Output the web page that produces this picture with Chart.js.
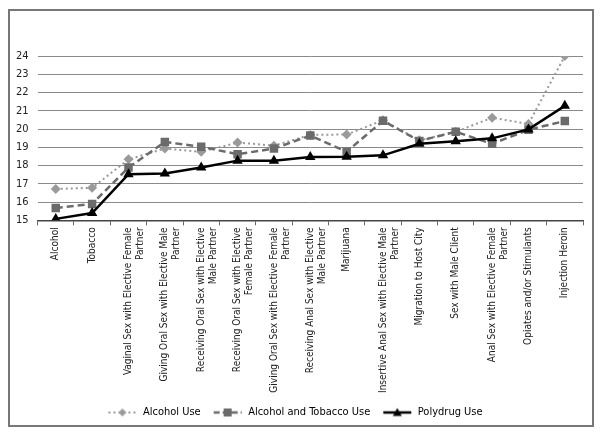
<!DOCTYPE html>
<html>
<head>
<meta charset="utf-8">
<script src="https://cdn.jsdelivr.net/npm/chart.js@4/dist/chart.umd.min.js"></script>
<style>
  html, body { margin: 0; padding: 0; background: #fff; }
  #wrap { width: 600px; height: 435px; position: relative; }
</style>
</head>
<body>
<div id="wrap"><canvas id="myChart"></canvas></div>
<script>
const categories = [
    'Alcohol',
    'Tobacco',
    ['Vaginal Sex with Elective Female', 'Partner'],
    ['Giving Oral Sex with Elective Male', 'Partner'],
    ['Receiving Oral Sex with Elective', 'Male Partner'],
    ['Receiving Oral Sex with Elective', 'Female Partner'],
    ['Giving Oral Sex with Elective Female', 'Partner'],
    ['Receiving Anal Sex with Elective', 'Male Partner'],
    'Marijuana',
    ['Insertive Anal Sex with Elective Male', 'Partner'],
    'Migration to Host City',
    'Sex with Male Client',
    ['Anal Sex with Elective Female', 'Partner'],
    'Opiates and/or Stimulants',
    'Injection Heroin'
];
const alcoholUse = [16.72, 16.78, 18.34, 18.93, 18.75, 19.26, 19.09, 19.68, 19.70, 20.48, 19.38, 19.85, 20.62, 20.28, 24.0];
const alcoholTobaccoUse = [15.68, 15.90, 17.89, 19.29, 19.03, 18.62, 18.93, 19.64, 18.76, 20.45, 19.35, 19.85, 19.19, 19.96, 20.44];
const polydrugUse = [15.08, 15.40, 17.53, 17.57, 17.89, 18.27, 18.27, 18.47, 18.48, 18.56, 19.19, 19.33, 19.49, 19.98, 21.27];
const yTicks = [15, 16, 17, 18, 19, 20, 21, 22, 23, 24];

const font = "'Liberation Sans Narrow', 'DejaVu Sans Condensed', 'Liberation Sans', sans-serif";

// little line+marker pictures for the legend
function legendIcon(color, dash, width, shape) {
    const c = document.createElement('canvas');
    c.width = 30; c.height = 12;
    const g = c.getContext('2d');
    g.strokeStyle = color;
    g.lineWidth = width;
    g.setLineDash(dash);
    g.beginPath();
    g.moveTo(1, 6); g.lineTo(29, 6);
    g.stroke();
    g.setLineDash([]);
    g.fillStyle = color;
    g.beginPath();
    if (shape === 'diamond') {
        g.moveTo(15, 2); g.lineTo(19, 6); g.lineTo(15, 10); g.lineTo(11, 6);
    } else if (shape === 'square') {
        g.rect(11, 2, 8, 8);
    } else {
        g.moveTo(15, 1.5); g.lineTo(19.5, 9.5); g.lineTo(10.5, 9.5);
    }
    g.closePath();
    g.fill();
    return c;
}
const icons = [
    legendIcon('#9a9a9a', [2, 3], 2, 'diamond'),
    legendIcon('#6b6b6b', [6, 3], 2.5, 'square'),
    legendIcon('#000000', [], 2.5, 'triangle')
];

const frame = {
    id: 'frame',
    beforeDraw(chart) {
        const c = chart.ctx;
        c.save();
        c.fillStyle = '#fff';
        c.fillRect(0, 0, chart.width, chart.height);
        c.strokeStyle = '#777';
        c.lineWidth = 2;
        c.strokeRect(9, 10, 584, 416);
        c.restore();
    }
};

const ctx = document.getElementById('myChart').getContext('2d');
const myChart = new Chart(ctx, {
    type: 'line',
    data: {
        labels: categories,
        datasets: [{
            label: 'Alcohol Use',
            data: alcoholUse,
            borderColor: '#9a9a9a',
            backgroundColor: '#9a9a9a',
            borderWidth: 2,
            borderDash: [2, 3],
            pointStyle: 'rectRot',
            pointRadius: 5,
            pointBorderWidth: 0,
            order: 3,
            fill: false
        }, {
            label: 'Alcohol and Tobacco Use',
            data: alcoholTobaccoUse,
            borderColor: '#6b6b6b',
            backgroundColor: '#6b6b6b',
            borderWidth: 2.5,
            borderDash: [7, 4],
            pointStyle: 'rect',
            pointRadius: 6,
            pointBorderWidth: 0,
            order: 2,
            fill: false
        }, {
            label: 'Polydrug Use',
            data: polydrugUse,
            borderColor: '#000',
            backgroundColor: '#000',
            borderWidth: 2.5,
            pointStyle: 'triangle',
            pointRadius: 6,
            pointBorderWidth: 0,
            order: 1,
            fill: false
        }]
    },
    options: {
        responsive: true,
        maintainAspectRatio: false,
        animation: false,
        layout: { padding: { left: 7, right: 17, top: 56, bottom: 7 } },
        plugins: {
            tooltip: { enabled: false },
            legend: {
                position: 'bottom',
                labels: {
                    usePointStyle: true,
                    pointStyleWidth: 30,
                    padding: 12,
                    color: '#222',
                    font: { family: font, size: 11 },
                    generateLabels(chart) {
                        return chart.data.datasets.map((ds, i) => ({
                            text: ds.label,
                            pointStyle: icons[i],
                            fillStyle: ds.borderColor,
                            strokeStyle: ds.borderColor,
                            lineWidth: 0,
                            hidden: false,
                            datasetIndex: i
                        }));
                    }
                }
            }
        },
        scales: {
            x: {
                offset: true,
                grid: {
                    offset: true,
                    drawOnChartArea: false,
                    drawTicks: true,
                    tickLength: 5,
                    color: '#666'
                },
                border: { display: true, color: '#444', width: 1.5 },
                ticks: {
                    autoSkip: false,
                    maxRotation: 90,
                    minRotation: 90,
                    padding: 2,
                    color: '#222',
                    font: { family: font, size: 10 }
                }
            },
            y: {
                min: 15,
                max: 24,
                afterBuildTicks(axis) {
                    axis.ticks = yTicks.map(v => ({ value: v }));
                },
                grid: { color: '#8a8a8a', drawTicks: false, lineWidth: 1 },
                border: { display: false },
                ticks: {
                    padding: 9,
                    color: '#222',
                    font: { family: font, size: 11 }
                }
            }
        }
    },
    plugins: [frame]
});
</script>
</body>
</html>
